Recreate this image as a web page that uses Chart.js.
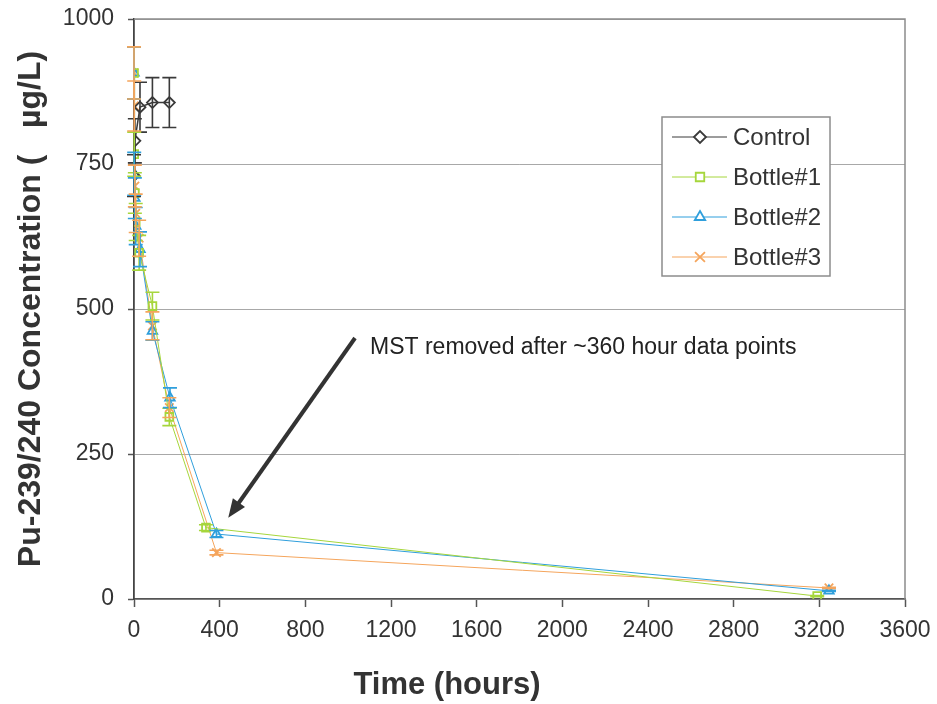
<!DOCTYPE html>
<html>
<head>
<meta charset="utf-8">
<script src="https://cdn.jsdelivr.net/npm/chart.js@4.4.1/dist/chart.umd.min.js"></script>
<style>
  html, body { margin: 0; padding: 0; background: #fff; }
  #wrap { width: 937px; height: 704px; }
</style>
</head>
<body>
<div id="wrap"><canvas id="puChart" width="937" height="704"></canvas></div>
<script>
// Series data (time in hours, concentration in ug/L, +/- error)
const controlTime = [0, 4, 28, 86, 165];
const controlConc = [730, 790, 848, 856, 856];
const controlErr = [36, 38, 43, 43, 43];

const bottle1Time = [0, 1, 4, 8, 24, 86, 165, 336, 3190];
const bottle1Conc = [907, 767, 700, 650, 597, 505, 314, 123, 5];
const bottle1Err = [45, 38, 35, 32, 30, 24, 15, 5, 1];

const bottle2Time = [0, 1, 4, 8, 28, 86, 168, 385, 3245];
const bottle2Conc = [907, 733, 691, 643, 603, 462, 347, 112, 14];
const bottle2Err = [45, 37, 35, 32, 30, 16, 17, 6, 1];

const bottle3Time = [0, 1, 4, 8, 24, 86, 165, 385, 3245];
const bottle3Conc = [907, 850, 712, 665, 622, 471, 330, 80, 19];
const bottle3Err = [45, 43, 36, 33, 31, 24, 17, 4, 1];

const seriesNames = ["Control", "Bottle#1", "Bottle#2", "Bottle#3"];
const seriesColors = ["#3a3a3a", "#a6d63c", "#2f9fdc", "#f5a55c"];
const seriesMarkers = ["rectRot", "rect", "triangle", "crossRot"];

const xTicks = [0, 400, 800, 1200, 1600, 2000, 2400, 2800, 3200, 3600];
const yTicks = [0, 250, 500, 750, 1000];

const noteText = "MST removed after ~360 hour data points";

window.addEventListener("DOMContentLoaded", () => {
  const toPoints = (t, c, e) => t.map((x, i) => ({ x: x, y: c[i], err: e[i] }));

  const series = [
    toPoints(controlTime, controlConc, controlErr),
    toPoints(bottle1Time, bottle1Conc, bottle1Err),
    toPoints(bottle2Time, bottle2Conc, bottle2Err),
    toPoints(bottle3Time, bottle3Conc, bottle3Err)
  ];

  const datasets = series.map((pts, i) => ({
    label: seriesNames[i],
    data: pts,
    showLine: true,
    borderColor: seriesColors[i],
    borderWidth: i === 0 ? 1.5 : 1,
    pointStyle: seriesMarkers[i],
    pointRadius: i === 3 ? 6 : 5.5,
    pointBorderWidth: 1.8,
    pointBackgroundColor: "rgba(255,255,255,0)",
    pointBorderColor: seriesColors[i],
    tension: 0
  }));

  // error bars, plot frame, arrow note, legend and x title
  const extras = {
    id: "extras",
    afterDatasetsDraw(chart) {
      const ctx = chart.ctx;
      const xs = chart.scales.x;
      const ys = chart.scales.y;
      ctx.save();
      chart.data.datasets.forEach((ds, i) => {
        ctx.strokeStyle = seriesColors[i];
        ctx.lineWidth = 1.6;
        ds.data.forEach(p => {
          if (!p.err) return;
          const px = xs.getPixelForValue(p.x);
          const top = ys.getPixelForValue(p.y + p.err);
          const bot = ys.getPixelForValue(p.y - p.err);
          const cap = 7;
          ctx.beginPath();
          ctx.moveTo(px, top); ctx.lineTo(px, bot);
          ctx.moveTo(px - cap, top); ctx.lineTo(px + cap, top);
          ctx.moveTo(px - cap, bot); ctx.lineTo(px + cap, bot);
          ctx.stroke();
        });
      });
      ctx.restore();
    },
    afterDraw(chart) {
      const ctx = chart.ctx;
      const area = chart.chartArea;
      const xs = chart.scales.x;
      const ys = chart.scales.y;
      ctx.save();

      // top / right frame
      ctx.strokeStyle = "#8c8c8c";
      ctx.lineWidth = 1.5;
      ctx.beginPath();
      ctx.moveTo(area.left, area.top);
      ctx.lineTo(area.right, area.top);
      ctx.lineTo(area.right, area.bottom);
      ctx.stroke();

      // note + arrow
      ctx.fillStyle = "#222";
      ctx.font = "23px 'Liberation Sans', Arial, sans-serif";
      ctx.textBaseline = "middle";
      ctx.textAlign = "left";
      ctx.fillText(noteText, xs.getPixelForValue(1102), ys.getPixelForValue(434));

      const x0 = xs.getPixelForValue(1032), y0 = ys.getPixelForValue(450);
      const x1 = xs.getPixelForValue(440), y1 = ys.getPixelForValue(140);
      const ang = Math.atan2(y1 - y0, x1 - x0);
      const head = 20;
      ctx.strokeStyle = "#333";
      ctx.fillStyle = "#333";
      ctx.lineWidth = 4;
      ctx.beginPath();
      ctx.moveTo(x0, y0);
      ctx.lineTo(x1 - Math.cos(ang) * head * 0.8, y1 - Math.sin(ang) * head * 0.8);
      ctx.stroke();
      ctx.beginPath();
      ctx.moveTo(x1, y1);
      ctx.lineTo(x1 - head * Math.cos(ang - 0.38), y1 - head * Math.sin(ang - 0.38));
      ctx.lineTo(x1 - head * Math.cos(ang + 0.38), y1 - head * Math.sin(ang + 0.38));
      ctx.closePath();
      ctx.fill();

      // legend box
      const lx = 662, ly = 117, lw = 168, lh = 159;
      ctx.fillStyle = "#fff";
      ctx.fillRect(lx, ly, lw, lh);
      ctx.strokeStyle = "#8c8c8c";
      ctx.lineWidth = 1.5;
      ctx.strokeRect(lx, ly, lw, lh);
      ctx.font = "24px 'Liberation Sans', Arial, sans-serif";
      ctx.textAlign = "left";
      ctx.textBaseline = "middle";
      seriesNames.forEach((name, i) => {
        const cy = ly + 20 + i * 40;
        ctx.strokeStyle = seriesColors[i];
        ctx.lineWidth = 1;
        ctx.beginPath();
        ctx.moveTo(lx + 10, cy);
        ctx.lineTo(lx + 65, cy);
        ctx.stroke();
        ctx.lineWidth = 1.8;
        ctx.fillStyle = "#fff";
        Chart.helpers.drawPoint(ctx, {
          pointStyle: seriesMarkers[i],
          radius: i === 3 ? 7 : 6,
          borderWidth: 1.8,
          rotation: 0
        }, lx + 38, cy);
        ctx.fillStyle = "#333";
        ctx.fillText(name, lx + 71, cy + 1);
      });

      // x title
      ctx.fillStyle = "#333";
      ctx.font = "bold 31px 'Liberation Sans', Arial, sans-serif";
      ctx.textAlign = "center";
      ctx.textBaseline = "middle";
      ctx.fillText("Time (hours)", 447, 685);
      ctx.restore();
    }
  };

  new Chart(document.getElementById("puChart"), {
    type: "scatter",
    data: { datasets: datasets },
    options: {
      responsive: false,
      animation: false,
      layout: { padding: { top: 19, right: 32, left: 0, bottom: 0 } },
      plugins: {
        legend: { display: false },
        tooltip: { enabled: false }
      },
      scales: {
        x: {
          type: "linear",
          min: 0,
          max: 3600,
          afterFit: s => {
            s.height = 105;
            s.paddingLeft = 0;
            s.paddingRight = 0;
          },
          afterBuildTicks: s => { s.ticks = xTicks.map(v => ({ value: v })); },
          grid: {
            drawOnChartArea: false,
            drawTicks: true,
            tickLength: 8,
            tickColor: "#555",
            tickWidth: 1.5
          },
          border: { color: "#555", width: 1.5 },
          ticks: {
            color: "#333",
            padding: 10,
            maxRotation: 0,
            callback: v => String(v),
            font: { family: "'Liberation Sans Narrow', 'Liberation Sans', Arial", size: 23 }
          }
        },
        y: {
          type: "linear",
          min: 0,
          max: 1000,
          afterFit: s => {
            s.width = 134;
            s.paddingTop = 0;
            s.paddingBottom = 0;
          },
          afterBuildTicks: s => { s.ticks = yTicks.map(v => ({ value: v })); },
          grid: {
            color: "#a8a8a8",
            lineWidth: 1,
            drawTicks: true,
            tickLength: 6,
            tickColor: "#555",
            tickWidth: 1.5
          },
          border: { color: "#444", width: 1.8 },
          ticks: {
            color: "#333",
            padding: 14,
            callback: v => String(v),
            font: { family: "'Liberation Sans', Arial", size: 23 }
          },
          title: {
            display: true,
            text: "Pu-239/240 Concentration (   \u00b5g/L)",
            color: "#333",
            padding: { top: 12, bottom: 0 },
            font: { family: "'Liberation Sans', Arial", size: 32, weight: "bold" }
          }
        }
      }
    },
    plugins: [extras]
  });
});
</script>
</body>
</html>
